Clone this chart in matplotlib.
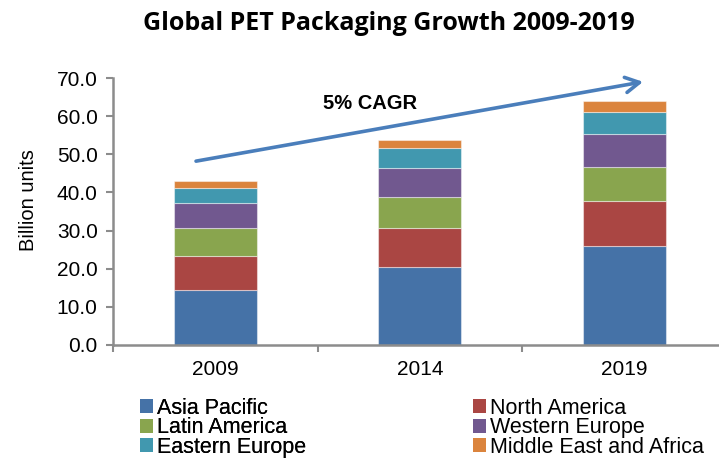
import matplotlib
matplotlib.use("Agg")
import matplotlib.pyplot as plt
from matplotlib.patches import Patch
import numpy as np

years = ["2009", "2014", "2019"]
regions = ["Asia Pacific", "North America", "Latin America",
           "Western Europe", "Eastern Europe", "Middle East and Africa"]
asia_pacific = [14.4, 20.5, 26.0]
north_america = [8.9, 10.1, 11.8]
latin_america = [7.4, 8.2, 8.9]
western_europe = [6.5, 7.5, 8.5]
eastern_europe = [4.0, 5.3, 6.0]
middle_east_africa = [1.8, 2.1, 2.8]
series = [asia_pacific, north_america, latin_america,
          western_europe, eastern_europe, middle_east_africa]
colors = ["#4572A7", "#AA4643", "#89A54E", "#71588F", "#4198AF", "#DB843D"]

plt.rcParams["font.family"] = ["Liberation Sans", "DejaVu Sans"]

fig = plt.figure(figsize=(7.19, 4.63), dpi=100)
W, H = 719, 463
left, right, top, bottom = 113, 726.5, 78, 345
ax = fig.add_axes([left / W, (H - bottom) / H, (right - left) / W, (bottom - top) / H])

x = np.arange(len(years))
base = np.zeros(len(years))
handles = []
for vals, col, name in zip(series, colors, regions):
    ax.bar(x, vals, width=0.405, bottom=base, color=col,
           edgecolor=(1, 1, 1, 0.45), linewidth=0.8)
    base += np.array(vals)
    handles.append(Patch(facecolor=col, label=name))

ax.set_xlim(-0.5, 2.5)
ax.set_ylim(0, 70)
ax.set_yticks(np.arange(0, 71, 10))
ax.set_yticklabels([f"{v:.1f}" for v in np.arange(0, 71, 10)], fontsize=15)
ax.set_xticks([-0.5, 0.5, 1.5, 2.5])
ax.set_xticklabels([])
ax.set_xticks(x, minor=True)
ax.set_xticklabels(years, minor=True, fontsize=15)
ax.tick_params(axis="x", which="minor", length=0, pad=11)
ax.tick_params(axis="x", which="major", length=5, color="#8c8c8c", width=1.5, direction="out")
ax.tick_params(axis="y", length=5, color="#8c8c8c", width=1.5, direction="out", pad=6)

for s in ["top", "right"]:
    ax.spines[s].set_visible(False)
for s in ["left", "bottom"]:
    ax.spines[s].set_color("#8c8c8c")
    ax.spines[s].set_linewidth(1.8)

ax.set_ylabel("Billion units", fontsize=14.5)
ax.yaxis.set_label_coords(38 / W, (H - 200) / H, transform=fig.transFigure)

# growth arrow
ax.annotate("", xy=(2.092, 69.0), xytext=(-0.094, 48.2),
            arrowprops=dict(arrowstyle="->,head_length=1.0,head_width=0.55",
                            color="#4a7ebb", lw=2.6, shrinkA=0, shrinkB=0),
            annotation_clip=False)
ax.text(0.757, 63.2, "5% CAGR", fontsize=14.5, fontweight="bold",
        ha="center", va="center")

fig.text(389 / W, 1 - 23 / H, "Global PET Packaging Growth 2009-2019",
         fontsize=18, fontweight="bold", ha="center", va="center",
         family=["Open Sans", "DejaVu Sans"])

leg_kw = dict(loc="upper left", frameon=False, fontsize=15.5,
              handlelength=0.62, handleheight=0.62, handletextpad=0.15,
              labelspacing=-0.08, borderaxespad=0, borderpad=0)
leg1 = fig.legend([handles[i] for i in (0, 2, 4)], [regions[i] for i in (0, 2, 4)],
                  bbox_to_anchor=(140 / W, 1 - 398 / H), **leg_kw)
fig.add_artist(leg1)
fig.legend([handles[i] for i in (1, 3, 5)], [regions[i] for i in (1, 3, 5)],
           bbox_to_anchor=(473 / W, 1 - 398 / H), **leg_kw)

fig.savefig("out.png", dpi=100)
